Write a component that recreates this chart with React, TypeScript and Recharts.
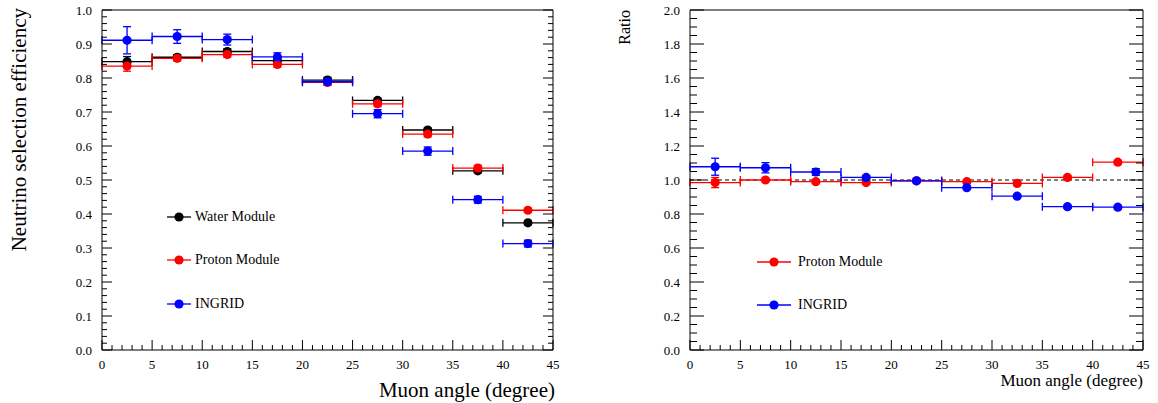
import {
  ComposedChart,
  Scatter,
  ErrorBar,
  XAxis,
  YAxis,
  ReferenceLine,
} from "recharts";

// bin centres (muon angle, degree), each bin is 5 degrees wide
const angles = [2.5, 7.5, 12.5, 17.5, 22.5, 27.5, 32.5, 37.5, 42.5];
const binHalfWidth = 2.5;

// efficiency panel
const waterEff = [0.848, 0.861, 0.878, 0.851, 0.794, 0.734, 0.647, 0.527, 0.374];
const waterErr = [0.015, 0.008, 0.008, 0.008, 0.008, 0.006, 0.006, 0.006, 0.006];
const protonEff = [0.835, 0.858, 0.869, 0.84, 0.787, 0.724, 0.635, 0.535, 0.411];
const protonErr = [0.015, 0.008, 0.008, 0.008, 0.008, 0.008, 0.008, 0.008, 0.006];
const ingridEff = [0.911, 0.922, 0.913, 0.862, 0.789, 0.695, 0.585, 0.442, 0.313];
const ingridErr = [0.04, 0.02, 0.016, 0.012, 0.01, 0.012, 0.012, 0.01, 0.01];

// ratio panel
const protonRatio = [0.985, 1.0, 0.99, 0.985, 0.995, 0.99, 0.98, 1.015, 1.105];
const protonRatioErr = [0.03, 0.01, 0.01, 0.01, 0.01, 0.01, 0.01, 0.01, 0.01];
const ingridRatio = [1.078, 1.072, 1.047, 1.015, 0.995, 0.955, 0.905, 0.843, 0.84];
const ingridRatioErr = [0.05, 0.03, 0.02, 0.01, 0.01, 0.01, 0.01, 0.01, 0.01];

// axis ticks
const xMajorTicks = [0, 5, 10, 15, 20, 25, 30, 35, 40, 45];
const effMajorTicks = [0, 0.1, 0.2, 0.3, 0.4, 0.5, 0.6, 0.7, 0.8, 0.9, 1.0];
const ratioMajorTicks = [0, 0.2, 0.4, 0.6, 0.8, 1.0, 1.2, 1.4, 1.6, 1.8, 2.0];

const FONT = '"Liberation Serif", "Times New Roman", serif';

function withMinors(majors: number[], sub: number) {
  const out: number[] = [];
  for (let i = 0; i < majors.length - 1; i++) {
    const a = majors[i];
    const step = (majors[i + 1] - a) / sub;
    for (let k = 0; k < sub; k++) out.push(+(a + k * step).toFixed(4));
  }
  out.push(majors[majors.length - 1]);
  return out;
}

const xTicks = withMinors(xMajorTicks, 5);
const effTicks = withMinors(effMajorTicks, 5);
const ratioTicks = withMinors(ratioMajorTicks, 4);

function points(ys: number[], errs: number[]) {
  return angles.map((x, i) => ({ x, y: ys[i], ex: binHalfWidth, ey: errs[i] }));
}

function isMajor(v: number, majors: number[]) {
  return majors.some((m) => Math.abs(m - v) < 1e-6);
}

function fmt1(v: number) {
  return v.toFixed(1);
}

// ROOT-like ticks: drawn inward, labels only on majors of bottom/left axes
function AxisTick(props: any) {
  const { x, y, payload, orient, majors, bigLen, smallLen, fmt } = props;
  const v = payload.value;
  const big = isMajor(v, majors);
  const len = big ? bigLen : smallLen;
  let line;
  if (orient === "bottom") line = <line x1={x} y1={y} x2={x} y2={y - len} />;
  else if (orient === "top") line = <line x1={x} y1={y} x2={x} y2={y + len} />;
  else if (orient === "left") line = <line x1={x} y1={y} x2={x + len} y2={y} />;
  else line = <line x1={x} y1={y} x2={x - len} y2={y} />;
  return (
    <g>
      <g stroke="#000" strokeWidth={1}>{line}</g>
      {big && orient === "bottom" && (
        <text x={x} y={y + 19} textAnchor="middle" fontSize={13} fontFamily={FONT} fill="#000">
          {v}
        </text>
      )}
      {big && orient === "left" && (
        <text x={x - 10} y={y} dy="0.35em" textAnchor="end" fontSize={13} fontFamily={FONT} fill="#000">
          {fmt(v)}
        </text>
      )}
    </g>
  );
}

function dot(color: string) {
  return (p: any) => <circle cx={p.cx} cy={p.cy} r={4.6} fill={color} />;
}

function scatterWithErrors(id: string, data: any[], color: string) {
  return (
    <Scatter
      key={id}
      name={id}
      data={data}
      dataKey="y"
      xAxisId="b"
      yAxisId="l"
      shape={dot(color)}
      isAnimationActive={false}
    >
      <ErrorBar dataKey="ex" direction="x" width={4} stroke={color} strokeWidth={1.3} isAnimationActive={false} />
      <ErrorBar dataKey="ey" direction="y" width={4} stroke={color} strokeWidth={1.3} isAnimationActive={false} />
    </Scatter>
  );
}

function LegendRow({ x, y, color, label, lineLen }: { x: number; y: number; color: string; label: string; lineLen: number }) {
  return (
    <div style={{ position: "absolute", left: x, top: y - 10, height: 20, display: "flex", alignItems: "center" }}>
      <svg width={lineLen} height={20}>
        <line x1={0} y1={10} x2={lineLen} y2={10} stroke={color} strokeWidth={1.3} />
        <circle cx={lineLen / 2} cy={10} r={4.6} fill={color} />
      </svg>
      <span style={{ marginLeft: lineLen > 30 ? 7 : 4, fontSize: 14, fontFamily: FONT, color: "#000", whiteSpace: "nowrap" }}>
        {label}
      </span>
    </div>
  );
}

// frame: bottom/left labelled axes plus mirrored top/right tick-only axes
function frameAxes(yDomain: number[], yTicks: number[], yMajors: number[], yBig: number, ySmall: number, topBig: number, topSmall: number) {
  const common = {
    interval: 0 as const,
    tickSize: 0,
    tickMargin: 0,
    tickLine: false,
    allowDataOverflow: true,
    axisLine: { stroke: "#000", strokeWidth: 1 },
  };
  return [
    <XAxis
      key="xb"
      xAxisId="b"
      dataKey="x"
      type="number"
      domain={[0, 45]}
      ticks={xTicks}
      height={30}
      {...common}
      tick={<AxisTick orient="bottom" majors={xMajorTicks} bigLen={10} smallLen={5} />}
    />,
    <XAxis
      key="xt"
      xAxisId="t"
      orientation="top"
      mirror
      type="number"
      domain={[0, 45]}
      ticks={xTicks}
      {...common}
      tick={<AxisTick orient="top" majors={xMajorTicks} bigLen={topBig} smallLen={topSmall} />}
    />,
    <YAxis
      key="yl"
      yAxisId="l"
      type="number"
      domain={yDomain}
      ticks={yTicks}
      width={60}
      {...common}
      tick={<AxisTick orient="left" majors={yMajors} bigLen={yBig} smallLen={ySmall} fmt={fmt1} />}
    />,
    <YAxis
      key="yr"
      yAxisId="r"
      orientation="right"
      mirror
      type="number"
      domain={yDomain}
      ticks={yTicks}
      {...common}
      tick={<AxisTick orient="right" majors={yMajors} bigLen={yBig} smallLen={ySmall} />}
    />,
  ];
}

export default function App() {
  return (
    <div style={{ position: "absolute", left: 0, top: 0, width: 1158, height: 403, background: "#fff", overflow: "hidden" }}>
      {/* left panel: efficiency */}
      <div style={{ position: "absolute", left: 0, top: 0 }}>
        <ComposedChart width={580} height={403} margin={{ top: 10, right: 27, bottom: 23, left: 42 }}>
          {frameAxes([0, 1], effTicks, effMajorTicks, 10, 5, 10, 5)}
          {scatterWithErrors("Water Module", points(waterEff, waterErr), "#000000")}
          {scatterWithErrors("Proton Module", points(protonEff, protonErr), "#ff0000")}
          {scatterWithErrors("INGRID", points(ingridEff, ingridErr), "#0000ff")}
        </ComposedChart>
      </div>

      {/* right panel: ratio */}
      <div style={{ position: "absolute", left: 590, top: 0 }}>
        <ComposedChart width={568} height={403} margin={{ top: 10, right: 15, bottom: 23, left: 40 }}>
          {frameAxes([0, 2], ratioTicks, ratioMajorTicks, 14, 7, 7, 4)}
          <ReferenceLine xAxisId="b" yAxisId="l" y={1} stroke="#000" strokeDasharray="4 3" strokeWidth={1} />
          {scatterWithErrors("Proton Module", points(protonRatio, protonRatioErr), "#ff0000")}
          {scatterWithErrors("INGRID", points(ingridRatio, ingridRatioErr), "#0000ff")}
        </ComposedChart>
      </div>

      {/* axis titles */}
      <div
        style={{
          position: "absolute",
          left: 8,
          top: 8,
          transform: "rotate(-90deg) translateX(-100%)",
          transformOrigin: "0 0",
          fontSize: 21,
          fontFamily: FONT,
          whiteSpace: "nowrap",
          lineHeight: "22px",
        }}
      >
        Neutrino selection efficiency
      </div>
      <div
        style={{ position: "absolute", right: 1158 - 555, top: 378, fontSize: 21, fontFamily: FONT, whiteSpace: "nowrap", lineHeight: "24px" }}
      >
        Muon angle (degree)
      </div>
      <div
        style={{
          position: "absolute",
          left: 616,
          top: 10,
          transform: "rotate(-90deg) translateX(-100%)",
          transformOrigin: "0 0",
          fontSize: 16,
          fontFamily: FONT,
          whiteSpace: "nowrap",
          lineHeight: "18px",
        }}
      >
        Ratio
      </div>
      <div
        style={{ position: "absolute", right: 1158 - 1143, top: 371, fontSize: 17, fontFamily: FONT, whiteSpace: "nowrap", lineHeight: "20px" }}
      >
        Muon angle (degree)
      </div>

      {/* legends */}
      <LegendRow x={167} y={217} color="#000000" label="Water Module" lineLen={24} />
      <LegendRow x={167} y={260} color="#ff0000" label="Proton Module" lineLen={24} />
      <LegendRow x={167} y={304} color="#0000ff" label="INGRID" lineLen={24} />
      <LegendRow x={757} y={262} color="#ff0000" label="Proton Module" lineLen={34} />
      <LegendRow x={757} y={305} color="#0000ff" label="INGRID" lineLen={34} />
    </div>
  );
}
